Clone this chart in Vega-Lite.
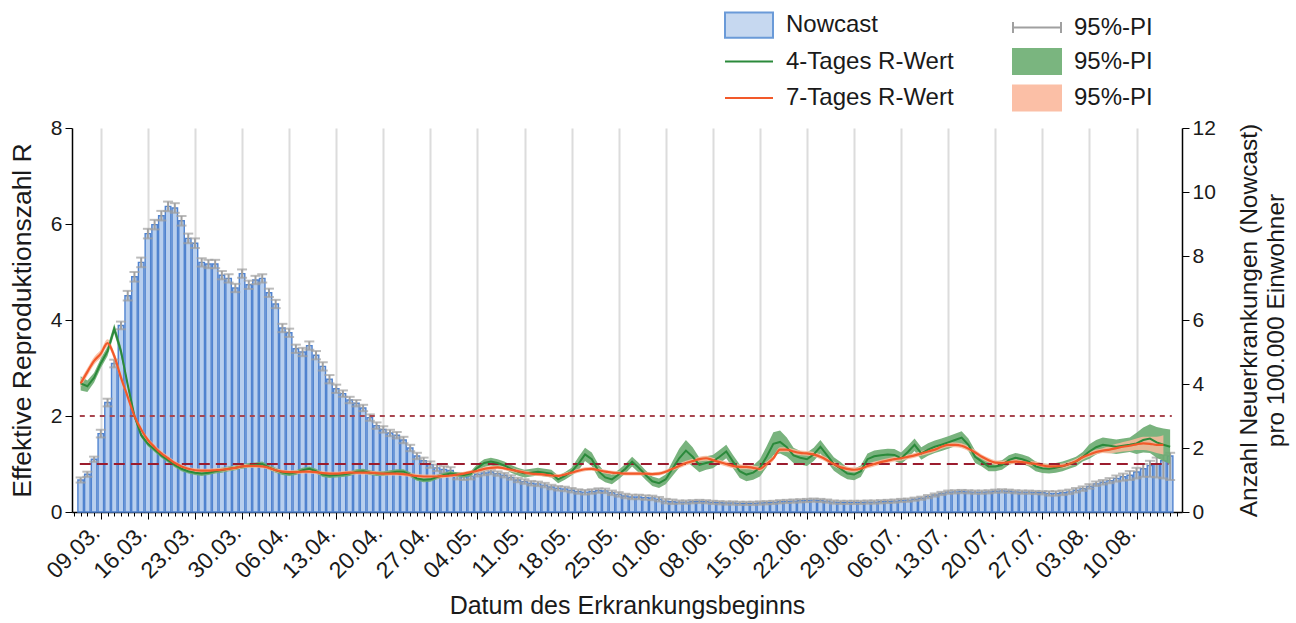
{
"$schema": "https://vega.github.io/schema/vega-lite/v6.json",
"width": 1110, "height": 384,
"autosize": "none",
"padding": {"left": 72, "top": 128, "right": 114, "bottom": 111},
"background": "white",
"config": {"font": "Liberation Sans", "view": {"stroke": null},
  "axis": {"labelFont": "Liberation Sans", "titleFont": "Liberation Sans", "labelColor": "#1a1a1a", "titleColor": "#1a1a1a", "titleFontWeight": "normal", "grid": false}},
"datasets": {"main": [
{"d":"2020-03-06","n":1.0,"nl":0.92,"nh":1.08,"g":2.68,"gl":2.53,"gh":2.83,"o":2.68,"ol":2.6,"oh":2.76},
{"d":"2020-03-07","n":1.18,"nl":1.1,"nh":1.26,"g":2.62,"gl":2.5,"gh":2.74,"o":2.92,"ol":2.84,"oh":3.0},
{"d":"2020-03-08","n":1.65,"nl":1.57,"nh":1.73,"g":2.8,"gl":2.7,"gh":2.9,"o":3.15,"ol":3.07,"oh":3.23},
{"d":"2020-03-09","n":2.45,"nl":2.33,"nh":2.57,"g":3.1,"gl":3.0,"gh":3.2,"o":3.3,"ol":3.22,"oh":3.38},
{"d":"2020-03-10","n":3.42,"nl":3.3,"nh":3.54,"g":3.35,"gl":3.25,"gh":3.45,"o":3.52,"ol":3.44,"oh":3.6},
{"d":"2020-03-11","n":4.64,"nl":4.52,"nh":4.76,"g":3.82,"gl":3.72,"gh":3.92,"o":3.25,"ol":3.17,"oh":3.33},
{"d":"2020-03-12","n":5.83,"nl":5.71,"nh":5.95,"g":3.35,"gl":3.25,"gh":3.45,"o":2.8,"ol":2.72,"oh":2.88},
{"d":"2020-03-13","n":6.76,"nl":6.61,"nh":6.91,"g":2.65,"gl":2.6,"gh":2.7,"o":2.4,"ol":2.35,"oh":2.45},
{"d":"2020-03-14","n":7.35,"nl":7.2,"nh":7.5,"g":2.0,"gl":1.95,"gh":2.05,"o":2.0,"ol":1.95,"oh":2.05},
{"d":"2020-03-15","n":7.8,"nl":7.65,"nh":7.95,"g":1.6,"gl":1.55,"gh":1.65,"o":1.72,"ol":1.67,"oh":1.77},
{"d":"2020-03-16","n":8.7,"nl":8.55,"nh":8.85,"g":1.42,"gl":1.37,"gh":1.47,"o":1.5,"ol":1.45,"oh":1.55},
{"d":"2020-03-17","n":8.98,"nl":8.83,"nh":9.13,"g":1.3,"gl":1.25,"gh":1.35,"o":1.35,"ol":1.3,"oh":1.4},
{"d":"2020-03-18","n":9.26,"nl":9.11,"nh":9.41,"g":1.18,"gl":1.13,"gh":1.23,"o":1.22,"ol":1.17,"oh":1.27},
{"d":"2020-03-19","n":9.55,"nl":9.4,"nh":9.7,"g":1.08,"gl":1.03,"gh":1.13,"o":1.12,"ol":1.07,"oh":1.17},
{"d":"2020-03-20","n":9.5,"nl":9.35,"nh":9.65,"g":0.98,"gl":0.93,"gh":1.03,"o":1.02,"ol":0.98,"oh":1.06},
{"d":"2020-03-21","n":9.1,"nl":8.95,"nh":9.25,"g":0.9,"gl":0.85,"gh":0.95,"o":0.95,"ol":0.91,"oh":0.99},
{"d":"2020-03-22","n":8.55,"nl":8.4,"nh":8.7,"g":0.85,"gl":0.8,"gh":0.9,"o":0.9,"ol":0.86,"oh":0.94},
{"d":"2020-03-23","n":8.4,"nl":8.25,"nh":8.55,"g":0.82,"gl":0.77,"gh":0.87,"o":0.87,"ol":0.83,"oh":0.91},
{"d":"2020-03-24","n":7.8,"nl":7.67,"nh":7.93,"g":0.8,"gl":0.75,"gh":0.85,"o":0.86,"ol":0.82,"oh":0.9},
{"d":"2020-03-25","n":7.75,"nl":7.62,"nh":7.88,"g":0.82,"gl":0.77,"gh":0.87,"o":0.86,"ol":0.82,"oh":0.9},
{"d":"2020-03-26","n":7.75,"nl":7.62,"nh":7.88,"g":0.85,"gl":0.8,"gh":0.9,"o":0.87,"ol":0.83,"oh":0.91},
{"d":"2020-03-27","n":7.4,"nl":7.27,"nh":7.53,"g":0.87,"gl":0.82,"gh":0.92,"o":0.88,"ol":0.84,"oh":0.92},
{"d":"2020-03-28","n":7.3,"nl":7.17,"nh":7.43,"g":0.9,"gl":0.85,"gh":0.95,"o":0.9,"ol":0.86,"oh":0.94},
{"d":"2020-03-29","n":7.0,"nl":6.87,"nh":7.13,"g":0.92,"gl":0.87,"gh":0.97,"o":0.92,"ol":0.88,"oh":0.96},
{"d":"2020-03-30","n":7.45,"nl":7.32,"nh":7.58,"g":0.95,"gl":0.9,"gh":1.0,"o":0.95,"ol":0.91,"oh":0.99},
{"d":"2020-03-31","n":7.1,"nl":6.97,"nh":7.23,"g":0.97,"gl":0.92,"gh":1.02,"o":0.96,"ol":0.92,"oh":1.0},
{"d":"2020-04-01","n":7.25,"nl":7.12,"nh":7.38,"g":0.98,"gl":0.93,"gh":1.03,"o":0.96,"ol":0.92,"oh":1.0},
{"d":"2020-04-02","n":7.3,"nl":7.17,"nh":7.43,"g":1.0,"gl":0.95,"gh":1.05,"o":0.95,"ol":0.91,"oh":0.99},
{"d":"2020-04-03","n":6.85,"nl":6.72,"nh":6.98,"g":0.93,"gl":0.88,"gh":0.98,"o":0.92,"ol":0.88,"oh":0.96},
{"d":"2020-04-04","n":6.5,"nl":6.37,"nh":6.63,"g":0.87,"gl":0.82,"gh":0.92,"o":0.87,"ol":0.83,"oh":0.91},
{"d":"2020-04-05","n":5.75,"nl":5.62,"nh":5.88,"g":0.82,"gl":0.77,"gh":0.87,"o":0.84,"ol":0.8,"oh":0.88},
{"d":"2020-04-06","n":5.6,"nl":5.47,"nh":5.73,"g":0.8,"gl":0.75,"gh":0.85,"o":0.83,"ol":0.79,"oh":0.87},
{"d":"2020-04-07","n":5.1,"nl":4.97,"nh":5.23,"g":0.82,"gl":0.77,"gh":0.87,"o":0.83,"ol":0.79,"oh":0.87},
{"d":"2020-04-08","n":5.0,"nl":4.87,"nh":5.13,"g":0.87,"gl":0.82,"gh":0.92,"o":0.84,"ol":0.8,"oh":0.88},
{"d":"2020-04-09","n":5.2,"nl":5.07,"nh":5.33,"g":0.9,"gl":0.85,"gh":0.95,"o":0.84,"ol":0.8,"oh":0.88},
{"d":"2020-04-10","n":4.9,"nl":4.77,"nh":5.03,"g":0.85,"gl":0.8,"gh":0.9,"o":0.83,"ol":0.79,"oh":0.87},
{"d":"2020-04-11","n":4.55,"nl":4.42,"nh":4.68,"g":0.78,"gl":0.73,"gh":0.83,"o":0.81,"ol":0.77,"oh":0.85},
{"d":"2020-04-12","n":4.15,"nl":4.02,"nh":4.28,"g":0.76,"gl":0.71,"gh":0.81,"o":0.8,"ol":0.76,"oh":0.84},
{"d":"2020-04-13","n":3.85,"nl":3.72,"nh":3.98,"g":0.77,"gl":0.72,"gh":0.82,"o":0.8,"ol":0.76,"oh":0.84},
{"d":"2020-04-14","n":3.7,"nl":3.6,"nh":3.8,"g":0.78,"gl":0.73,"gh":0.83,"o":0.81,"ol":0.77,"oh":0.85},
{"d":"2020-04-15","n":3.5,"nl":3.4,"nh":3.6,"g":0.8,"gl":0.75,"gh":0.85,"o":0.82,"ol":0.78,"oh":0.86},
{"d":"2020-04-16","n":3.4,"nl":3.3,"nh":3.5,"g":0.84,"gl":0.79,"gh":0.89,"o":0.82,"ol":0.78,"oh":0.86},
{"d":"2020-04-17","n":3.25,"nl":3.15,"nh":3.35,"g":0.85,"gl":0.8,"gh":0.9,"o":0.82,"ol":0.78,"oh":0.86},
{"d":"2020-04-18","n":2.95,"nl":2.85,"nh":3.05,"g":0.82,"gl":0.77,"gh":0.87,"o":0.82,"ol":0.78,"oh":0.86},
{"d":"2020-04-19","n":2.7,"nl":2.6,"nh":2.8,"g":0.8,"gl":0.75,"gh":0.85,"o":0.81,"ol":0.77,"oh":0.85},
{"d":"2020-04-20","n":2.58,"nl":2.48,"nh":2.68,"g":0.8,"gl":0.75,"gh":0.85,"o":0.8,"ol":0.76,"oh":0.84},
{"d":"2020-04-21","n":2.47,"nl":2.37,"nh":2.57,"g":0.82,"gl":0.77,"gh":0.87,"o":0.8,"ol":0.76,"oh":0.84},
{"d":"2020-04-22","n":2.4,"nl":2.3,"nh":2.5,"g":0.84,"gl":0.79,"gh":0.89,"o":0.8,"ol":0.76,"oh":0.84},
{"d":"2020-04-23","n":2.25,"nl":2.15,"nh":2.35,"g":0.84,"gl":0.79,"gh":0.89,"o":0.79,"ol":0.75,"oh":0.83},
{"d":"2020-04-24","n":2.0,"nl":1.9,"nh":2.1,"g":0.78,"gl":0.73,"gh":0.83,"o":0.77,"ol":0.73,"oh":0.81},
{"d":"2020-04-25","n":1.75,"nl":1.65,"nh":1.85,"g":0.7,"gl":0.65,"gh":0.75,"o":0.75,"ol":0.71,"oh":0.79},
{"d":"2020-04-26","n":1.6,"nl":1.5,"nh":1.7,"g":0.67,"gl":0.62,"gh":0.72,"o":0.74,"ol":0.7,"oh":0.78},
{"d":"2020-04-27","n":1.48,"nl":1.38,"nh":1.58,"g":0.68,"gl":0.63,"gh":0.73,"o":0.74,"ol":0.7,"oh":0.78},
{"d":"2020-04-28","n":1.38,"nl":1.28,"nh":1.48,"g":0.73,"gl":0.68,"gh":0.78,"o":0.74,"ol":0.7,"oh":0.78},
{"d":"2020-04-29","n":1.33,"nl":1.23,"nh":1.43,"g":0.77,"gl":0.72,"gh":0.82,"o":0.75,"ol":0.71,"oh":0.79},
{"d":"2020-04-30","n":1.3,"nl":1.2,"nh":1.4,"g":0.8,"gl":0.75,"gh":0.85,"o":0.76,"ol":0.72,"oh":0.8},
{"d":"2020-05-01","n":1.12,"nl":1.02,"nh":1.22,"g":0.78,"gl":0.73,"gh":0.83,"o":0.78,"ol":0.74,"oh":0.82},
{"d":"2020-05-02","n":1.1,"nl":1.0,"nh":1.2,"g":0.77,"gl":0.72,"gh":0.82,"o":0.8,"ol":0.76,"oh":0.84},
{"d":"2020-05-03","n":1.12,"nl":1.02,"nh":1.22,"g":0.8,"gl":0.75,"gh":0.85,"o":0.83,"ol":0.79,"oh":0.87},
{"d":"2020-05-04","n":1.18,"nl":1.11,"nh":1.25,"g":0.92,"gl":0.84,"gh":1.0,"o":0.86,"ol":0.82,"oh":0.9},
{"d":"2020-05-05","n":1.22,"nl":1.15,"nh":1.29,"g":1.02,"gl":0.94,"gh":1.1,"o":0.9,"ol":0.86,"oh":0.94},
{"d":"2020-05-06","n":1.25,"nl":1.18,"nh":1.32,"g":1.05,"gl":0.97,"gh":1.13,"o":0.92,"ol":0.88,"oh":0.96},
{"d":"2020-05-07","n":1.2,"nl":1.13,"nh":1.27,"g":1.02,"gl":0.94,"gh":1.1,"o":0.93,"ol":0.89,"oh":0.97},
{"d":"2020-05-08","n":1.15,"nl":1.08,"nh":1.22,"g":0.97,"gl":0.89,"gh":1.05,"o":0.91,"ol":0.87,"oh":0.95},
{"d":"2020-05-09","n":1.08,"nl":1.01,"nh":1.15,"g":0.9,"gl":0.82,"gh":0.98,"o":0.88,"ol":0.84,"oh":0.92},
{"d":"2020-05-10","n":1.0,"nl":0.93,"nh":1.07,"g":0.84,"gl":0.76,"gh":0.92,"o":0.85,"ol":0.81,"oh":0.89},
{"d":"2020-05-11","n":0.95,"nl":0.88,"nh":1.02,"g":0.8,"gl":0.72,"gh":0.88,"o":0.82,"ol":0.78,"oh":0.86},
{"d":"2020-05-12","n":0.9,"nl":0.83,"nh":0.97,"g":0.82,"gl":0.74,"gh":0.9,"o":0.8,"ol":0.76,"oh":0.84},
{"d":"2020-05-13","n":0.88,"nl":0.81,"nh":0.95,"g":0.84,"gl":0.76,"gh":0.92,"o":0.79,"ol":0.75,"oh":0.83},
{"d":"2020-05-14","n":0.84,"nl":0.77,"nh":0.91,"g":0.82,"gl":0.74,"gh":0.9,"o":0.78,"ol":0.74,"oh":0.82},
{"d":"2020-05-15","n":0.78,"nl":0.71,"nh":0.85,"g":0.8,"gl":0.72,"gh":0.88,"o":0.76,"ol":0.72,"oh":0.8},
{"d":"2020-05-16","n":0.74,"nl":0.67,"nh":0.81,"g":0.68,"gl":0.6,"gh":0.76,"o":0.75,"ol":0.71,"oh":0.79},
{"d":"2020-05-17","n":0.72,"nl":0.65,"nh":0.79,"g":0.75,"gl":0.67,"gh":0.83,"o":0.78,"ol":0.74,"oh":0.82},
{"d":"2020-05-18","n":0.68,"nl":0.61,"nh":0.75,"g":0.84,"gl":0.76,"gh":0.92,"o":0.82,"ol":0.78,"oh":0.86},
{"d":"2020-05-19","n":0.64,"nl":0.57,"nh":0.71,"g":1.0,"gl":0.86,"gh":1.14,"o":0.86,"ol":0.82,"oh":0.9},
{"d":"2020-05-20","n":0.62,"nl":0.55,"nh":0.69,"g":1.2,"gl":1.06,"gh":1.34,"o":0.89,"ol":0.85,"oh":0.93},
{"d":"2020-05-21","n":0.64,"nl":0.57,"nh":0.71,"g":1.1,"gl":0.96,"gh":1.24,"o":0.9,"ol":0.86,"oh":0.94},
{"d":"2020-05-22","n":0.67,"nl":0.6,"nh":0.74,"g":0.85,"gl":0.71,"gh":0.99,"o":0.87,"ol":0.83,"oh":0.91},
{"d":"2020-05-23","n":0.66,"nl":0.59,"nh":0.73,"g":0.72,"gl":0.62,"gh":0.82,"o":0.84,"ol":0.8,"oh":0.88},
{"d":"2020-05-24","n":0.6,"nl":0.53,"nh":0.67,"g":0.68,"gl":0.58,"gh":0.78,"o":0.82,"ol":0.78,"oh":0.86},
{"d":"2020-05-25","n":0.55,"nl":0.48,"nh":0.62,"g":0.78,"gl":0.68,"gh":0.88,"o":0.81,"ol":0.77,"oh":0.85},
{"d":"2020-05-26","n":0.5,"nl":0.43,"nh":0.57,"g":0.9,"gl":0.8,"gh":1.0,"o":0.8,"ol":0.76,"oh":0.84},
{"d":"2020-05-27","n":0.47,"nl":0.4,"nh":0.54,"g":1.05,"gl":0.95,"gh":1.15,"o":0.8,"ol":0.76,"oh":0.84},
{"d":"2020-05-28","n":0.47,"nl":0.4,"nh":0.54,"g":0.92,"gl":0.82,"gh":1.02,"o":0.8,"ol":0.76,"oh":0.84},
{"d":"2020-05-29","n":0.45,"nl":0.38,"nh":0.52,"g":0.77,"gl":0.67,"gh":0.87,"o":0.8,"ol":0.76,"oh":0.84},
{"d":"2020-05-30","n":0.44,"nl":0.37,"nh":0.51,"g":0.64,"gl":0.54,"gh":0.74,"o":0.79,"ol":0.75,"oh":0.83},
{"d":"2020-05-31","n":0.4,"nl":0.33,"nh":0.47,"g":0.6,"gl":0.5,"gh":0.7,"o":0.8,"ol":0.76,"oh":0.84},
{"d":"2020-06-01","n":0.34,"nl":0.27,"nh":0.41,"g":0.68,"gl":0.58,"gh":0.78,"o":0.84,"ol":0.8,"oh":0.88},
{"d":"2020-06-02","n":0.32,"nl":0.25,"nh":0.39,"g":0.9,"gl":0.75,"gh":1.05,"o":0.9,"ol":0.86,"oh":0.94},
{"d":"2020-06-03","n":0.31,"nl":0.26,"nh":0.36,"g":1.12,"gl":0.92,"gh":1.32,"o":0.96,"ol":0.91,"oh":1.01},
{"d":"2020-06-04","n":0.31,"nl":0.26,"nh":0.36,"g":1.28,"gl":1.06,"gh":1.5,"o":1.02,"ol":0.97,"oh":1.07},
{"d":"2020-06-05","n":0.32,"nl":0.27,"nh":0.37,"g":1.15,"gl":0.95,"gh":1.35,"o":1.06,"ol":1.01,"oh":1.11},
{"d":"2020-06-06","n":0.33,"nl":0.28,"nh":0.38,"g":0.98,"gl":0.83,"gh":1.13,"o":1.1,"ol":1.05,"oh":1.15},
{"d":"2020-06-07","n":0.32,"nl":0.27,"nh":0.37,"g":1.02,"gl":0.88,"gh":1.16,"o":1.12,"ol":1.07,"oh":1.17},
{"d":"2020-06-08","n":0.3,"nl":0.25,"nh":0.35,"g":1.05,"gl":0.91,"gh":1.19,"o":1.08,"ol":1.03,"oh":1.13},
{"d":"2020-06-09","n":0.29,"nl":0.24,"nh":0.34,"g":1.15,"gl":1.01,"gh":1.29,"o":1.04,"ol":0.99,"oh":1.09},
{"d":"2020-06-10","n":0.28,"nl":0.23,"nh":0.33,"g":1.26,"gl":1.12,"gh":1.4,"o":1.0,"ol":0.95,"oh":1.05},
{"d":"2020-06-11","n":0.28,"nl":0.23,"nh":0.33,"g":1.05,"gl":0.91,"gh":1.19,"o":0.96,"ol":0.91,"oh":1.01},
{"d":"2020-06-12","n":0.27,"nl":0.22,"nh":0.32,"g":0.85,"gl":0.71,"gh":0.99,"o":0.94,"ol":0.89,"oh":0.99},
{"d":"2020-06-13","n":0.27,"nl":0.22,"nh":0.32,"g":0.78,"gl":0.64,"gh":0.92,"o":0.94,"ol":0.89,"oh":0.99},
{"d":"2020-06-14","n":0.27,"nl":0.22,"nh":0.32,"g":0.82,"gl":0.67,"gh":0.97,"o":0.92,"ol":0.87,"oh":0.97},
{"d":"2020-06-15","n":0.28,"nl":0.23,"nh":0.33,"g":0.92,"gl":0.74,"gh":1.1,"o":0.9,"ol":0.85,"oh":0.95},
{"d":"2020-06-16","n":0.29,"nl":0.24,"nh":0.34,"g":1.15,"gl":0.93,"gh":1.37,"o":1.0,"ol":0.95,"oh":1.05},
{"d":"2020-06-17","n":0.3,"nl":0.25,"nh":0.35,"g":1.42,"gl":1.18,"gh":1.66,"o":1.12,"ol":1.07,"oh":1.17},
{"d":"2020-06-18","n":0.32,"nl":0.27,"nh":0.37,"g":1.46,"gl":1.22,"gh":1.7,"o":1.3,"ol":1.25,"oh":1.35},
{"d":"2020-06-19","n":0.33,"nl":0.28,"nh":0.38,"g":1.35,"gl":1.15,"gh":1.55,"o":1.3,"ol":1.25,"oh":1.35},
{"d":"2020-06-20","n":0.34,"nl":0.29,"nh":0.39,"g":1.18,"gl":1.02,"gh":1.34,"o":1.26,"ol":1.21,"oh":1.31},
{"d":"2020-06-21","n":0.35,"nl":0.3,"nh":0.4,"g":1.13,"gl":0.99,"gh":1.27,"o":1.23,"ol":1.18,"oh":1.28},
{"d":"2020-06-22","n":0.36,"nl":0.31,"nh":0.41,"g":1.1,"gl":0.96,"gh":1.24,"o":1.22,"ol":1.17,"oh":1.27},
{"d":"2020-06-23","n":0.37,"nl":0.32,"nh":0.42,"g":1.2,"gl":1.06,"gh":1.34,"o":1.2,"ol":1.15,"oh":1.25},
{"d":"2020-06-24","n":0.36,"nl":0.31,"nh":0.41,"g":1.36,"gl":1.22,"gh":1.5,"o":1.15,"ol":1.1,"oh":1.2},
{"d":"2020-06-25","n":0.34,"nl":0.29,"nh":0.39,"g":1.18,"gl":1.04,"gh":1.32,"o":1.08,"ol":1.03,"oh":1.13},
{"d":"2020-06-26","n":0.31,"nl":0.26,"nh":0.36,"g":1.0,"gl":0.86,"gh":1.14,"o":1.0,"ol":0.95,"oh":1.05},
{"d":"2020-06-27","n":0.3,"nl":0.25,"nh":0.35,"g":0.9,"gl":0.76,"gh":1.04,"o":0.93,"ol":0.88,"oh":0.98},
{"d":"2020-06-28","n":0.3,"nl":0.25,"nh":0.35,"g":0.8,"gl":0.68,"gh":0.92,"o":0.9,"ol":0.85,"oh":0.95},
{"d":"2020-06-29","n":0.3,"nl":0.25,"nh":0.35,"g":0.78,"gl":0.66,"gh":0.9,"o":0.88,"ol":0.83,"oh":0.93},
{"d":"2020-06-30","n":0.3,"nl":0.25,"nh":0.35,"g":0.85,"gl":0.73,"gh":0.97,"o":0.9,"ol":0.85,"oh":0.95},
{"d":"2020-07-01","n":0.31,"nl":0.26,"nh":0.36,"g":1.1,"gl":0.98,"gh":1.22,"o":0.96,"ol":0.91,"oh":1.01},
{"d":"2020-07-02","n":0.31,"nl":0.26,"nh":0.36,"g":1.16,"gl":1.04,"gh":1.28,"o":1.0,"ol":0.95,"oh":1.05},
{"d":"2020-07-03","n":0.32,"nl":0.27,"nh":0.37,"g":1.18,"gl":1.06,"gh":1.3,"o":1.04,"ol":0.99,"oh":1.09},
{"d":"2020-07-04","n":0.33,"nl":0.28,"nh":0.38,"g":1.2,"gl":1.08,"gh":1.32,"o":1.07,"ol":1.02,"oh":1.12},
{"d":"2020-07-05","n":0.34,"nl":0.29,"nh":0.39,"g":1.19,"gl":1.07,"gh":1.31,"o":1.1,"ol":1.05,"oh":1.15},
{"d":"2020-07-06","n":0.36,"nl":0.31,"nh":0.41,"g":1.12,"gl":1.0,"gh":1.24,"o":1.12,"ol":1.07,"oh":1.17},
{"d":"2020-07-07","n":0.37,"nl":0.32,"nh":0.42,"g":1.25,"gl":1.12,"gh":1.38,"o":1.15,"ol":1.1,"oh":1.2},
{"d":"2020-07-08","n":0.4,"nl":0.35,"nh":0.45,"g":1.4,"gl":1.27,"gh":1.53,"o":1.18,"ol":1.13,"oh":1.23},
{"d":"2020-07-09","n":0.43,"nl":0.38,"nh":0.48,"g":1.22,"gl":1.09,"gh":1.35,"o":1.22,"ol":1.17,"oh":1.27},
{"d":"2020-07-10","n":0.48,"nl":0.43,"nh":0.53,"g":1.3,"gl":1.17,"gh":1.43,"o":1.26,"ol":1.21,"oh":1.31},
{"d":"2020-07-11","n":0.53,"nl":0.48,"nh":0.58,"g":1.36,"gl":1.23,"gh":1.49,"o":1.3,"ol":1.25,"oh":1.35},
{"d":"2020-07-12","n":0.58,"nl":0.53,"nh":0.63,"g":1.4,"gl":1.27,"gh":1.53,"o":1.36,"ol":1.31,"oh":1.41},
{"d":"2020-07-13","n":0.62,"nl":0.57,"nh":0.67,"g":1.45,"gl":1.32,"gh":1.58,"o":1.4,"ol":1.35,"oh":1.45},
{"d":"2020-07-14","n":0.63,"nl":0.58,"nh":0.68,"g":1.5,"gl":1.37,"gh":1.63,"o":1.4,"ol":1.35,"oh":1.45},
{"d":"2020-07-15","n":0.64,"nl":0.59,"nh":0.69,"g":1.55,"gl":1.42,"gh":1.68,"o":1.38,"ol":1.33,"oh":1.43},
{"d":"2020-07-16","n":0.63,"nl":0.58,"nh":0.68,"g":1.4,"gl":1.27,"gh":1.53,"o":1.32,"ol":1.27,"oh":1.37},
{"d":"2020-07-17","n":0.62,"nl":0.57,"nh":0.67,"g":1.15,"gl":1.02,"gh":1.28,"o":1.24,"ol":1.19,"oh":1.29},
{"d":"2020-07-18","n":0.62,"nl":0.57,"nh":0.67,"g":1.05,"gl":0.95,"gh":1.15,"o":1.15,"ol":1.1,"oh":1.2},
{"d":"2020-07-19","n":0.63,"nl":0.58,"nh":0.68,"g":0.95,"gl":0.85,"gh":1.05,"o":1.08,"ol":1.03,"oh":1.13},
{"d":"2020-07-20","n":0.65,"nl":0.6,"nh":0.7,"g":0.95,"gl":0.85,"gh":1.05,"o":1.03,"ol":0.98,"oh":1.08},
{"d":"2020-07-21","n":0.66,"nl":0.61,"nh":0.71,"g":0.98,"gl":0.88,"gh":1.08,"o":1.02,"ol":0.97,"oh":1.07},
{"d":"2020-07-22","n":0.65,"nl":0.6,"nh":0.7,"g":1.08,"gl":0.98,"gh":1.18,"o":1.04,"ol":0.99,"oh":1.09},
{"d":"2020-07-23","n":0.63,"nl":0.58,"nh":0.68,"g":1.13,"gl":1.03,"gh":1.23,"o":1.05,"ol":1.0,"oh":1.1},
{"d":"2020-07-24","n":0.62,"nl":0.57,"nh":0.67,"g":1.1,"gl":1.0,"gh":1.2,"o":1.04,"ol":0.99,"oh":1.09},
{"d":"2020-07-25","n":0.62,"nl":0.57,"nh":0.67,"g":1.05,"gl":0.95,"gh":1.15,"o":1.02,"ol":0.97,"oh":1.07},
{"d":"2020-07-26","n":0.61,"nl":0.56,"nh":0.66,"g":0.95,"gl":0.85,"gh":1.05,"o":1.0,"ol":0.95,"oh":1.05},
{"d":"2020-07-27","n":0.6,"nl":0.55,"nh":0.65,"g":0.91,"gl":0.81,"gh":1.01,"o":0.97,"ol":0.92,"oh":1.02},
{"d":"2020-07-28","n":0.58,"nl":0.51,"nh":0.65,"g":0.9,"gl":0.8,"gh":1.0,"o":0.95,"ol":0.9,"oh":1.0},
{"d":"2020-07-29","n":0.58,"nl":0.51,"nh":0.65,"g":0.92,"gl":0.82,"gh":1.02,"o":0.95,"ol":0.9,"oh":1.0},
{"d":"2020-07-30","n":0.6,"nl":0.53,"nh":0.67,"g":0.95,"gl":0.85,"gh":1.05,"o":0.96,"ol":0.91,"oh":1.01},
{"d":"2020-07-31","n":0.63,"nl":0.56,"nh":0.7,"g":1.0,"gl":0.9,"gh":1.1,"o":1.0,"ol":0.95,"oh":1.05},
{"d":"2020-08-01","n":0.68,"nl":0.61,"nh":0.75,"g":1.05,"gl":0.95,"gh":1.15,"o":1.06,"ol":1.01,"oh":1.11},
{"d":"2020-08-02","n":0.73,"nl":0.66,"nh":0.8,"g":1.15,"gl":1.05,"gh":1.25,"o":1.14,"ol":1.09,"oh":1.19},
{"d":"2020-08-03","n":0.8,"nl":0.73,"nh":0.87,"g":1.26,"gl":1.11,"gh":1.41,"o":1.2,"ol":1.15,"oh":1.25},
{"d":"2020-08-04","n":0.88,"nl":0.81,"nh":0.95,"g":1.35,"gl":1.2,"gh":1.5,"o":1.25,"ol":1.2,"oh":1.3},
{"d":"2020-08-05","n":0.93,"nl":0.86,"nh":1.0,"g":1.4,"gl":1.25,"gh":1.55,"o":1.28,"ol":1.23,"oh":1.33},
{"d":"2020-08-06","n":0.98,"nl":0.9,"nh":1.06,"g":1.38,"gl":1.23,"gh":1.53,"o":1.3,"ol":1.22,"oh":1.38},
{"d":"2020-08-07","n":1.05,"nl":0.95,"nh":1.14,"g":1.36,"gl":1.21,"gh":1.51,"o":1.33,"ol":1.24,"oh":1.42},
{"d":"2020-08-08","n":1.1,"nl":0.98,"nh":1.2,"g":1.38,"gl":1.23,"gh":1.53,"o":1.36,"ol":1.26,"oh":1.46},
{"d":"2020-08-09","n":1.15,"nl":1.0,"nh":1.28,"g":1.4,"gl":1.25,"gh":1.55,"o":1.38,"ol":1.27,"oh":1.49},
{"d":"2020-08-10","n":1.25,"nl":1.05,"nh":1.38,"g":1.43,"gl":1.21,"gh":1.65,"o":1.41,"ol":1.29,"oh":1.53},
{"d":"2020-08-11","n":1.35,"nl":1.1,"nh":1.5,"g":1.5,"gl":1.24,"gh":1.76,"o":1.43,"ol":1.29,"oh":1.57},
{"d":"2020-08-12","n":1.45,"nl":1.1,"nh":1.6,"g":1.53,"gl":1.23,"gh":1.83,"o":1.42,"ol":1.27,"oh":1.57},
{"d":"2020-08-13","n":1.5,"nl":1.08,"nh":1.7,"g":1.45,"gl":1.13,"gh":1.77,"o":1.4,"ol":1.23,"oh":1.57},
{"d":"2020-08-14","n":1.6,"nl":1.05,"nh":1.78,"g":1.4,"gl":1.06,"gh":1.74,"o":1.4,"ol":1.2,"oh":1.6},
{"d":"2020-08-15","n":1.75,"nl":1.0,"nh":1.85,"g":1.36,"gl":1.0,"gh":1.72}
],
"legend": [{"leg":"Nowcast"},{"leg":"4-Tages R-Wert"},{"leg":"7-Tages R-Wert"},{"leg":"p1"},{"leg":"p2"},{"leg":"p3"}]
},
"layer": [
{
  "data": {"name": "main"},
  "layer": [
    {"mark": {"type": "bar", "width": 5.5, "fill": "#b8cfee", "stroke": "#5083cf", "strokeWidth": 1.4},
     "encoding": {
      "x": {"field": "d", "type": "temporal",
        "scale": {"type": "utc", "domain": [{"year":2020,"month":3,"date":5,"hours":11,"utc":true},{"year":2020,"month":8,"date":16,"minutes":30,"utc":true}]},
        "axis": {"values": [
          {"year":2020,"month":3,"date":9,"utc":true},{"year":2020,"month":3,"date":16,"utc":true},{"year":2020,"month":3,"date":23,"utc":true},{"year":2020,"month":3,"date":30,"utc":true},
          {"year":2020,"month":4,"date":6,"utc":true},{"year":2020,"month":4,"date":13,"utc":true},{"year":2020,"month":4,"date":20,"utc":true},{"year":2020,"month":4,"date":27,"utc":true},
          {"year":2020,"month":5,"date":4,"utc":true},{"year":2020,"month":5,"date":11,"utc":true},{"year":2020,"month":5,"date":18,"utc":true},{"year":2020,"month":5,"date":25,"utc":true},
          {"year":2020,"month":6,"date":1,"utc":true},{"year":2020,"month":6,"date":8,"utc":true},{"year":2020,"month":6,"date":15,"utc":true},{"year":2020,"month":6,"date":22,"utc":true},{"year":2020,"month":6,"date":29,"utc":true},
          {"year":2020,"month":7,"date":6,"utc":true},{"year":2020,"month":7,"date":13,"utc":true},{"year":2020,"month":7,"date":20,"utc":true},{"year":2020,"month":7,"date":27,"utc":true},
          {"year":2020,"month":8,"date":3,"utc":true},{"year":2020,"month":8,"date":10,"utc":true}],
          "labelExpr": "utcFormat(datum.value, '%d.%m.')", "labelOverlap": false, "labelAngle": -45, "labelFontSize": 23,
          "labelAlign": "right", "labelBaseline": "middle", "labelPadding": 10, "labelOffset": -5,
          "grid": true, "gridColor": "#dcdcdc", "gridWidth": 2,
          "tickSize": 7, "tickColor": "#000", "domainColor": "#000", "domainWidth": 1.5,
          "title": "Datum des Erkrankungsbeginns", "titleFontSize": 25, "titlePadding": 11}},
      "y": {"field": "n", "type": "quantitative", "scale": {"domain": [0, 12]},
        "axis": {"orient": "right", "values": [0,2,4,6,8,10,12], "labelFontSize": 21, "tickSize": 7, "tickColor": "#000", "domainColor": "#000", "domainWidth": 1.5, "labelPadding": 3,
          "title": ["Anzahl Neuerkrankungen (Nowcast)", "pro 100.000 Einwohner"], "titleFontSize": 24.5, "titleAngle": 270, "titleBaseline": "top", "titlePadding": -5, "titleLineHeight": 27}}
     }},
    {"mark": {"type": "errorbar", "ticks": {"size": 10}, "color": "#a0a0a0", "thickness": 2},
     "encoding": {
      "x": {"field": "d", "type": "temporal"},
      "y": {"field": "nl", "type": "quantitative", "scale": {"domain": [0, 12]},
        "axis": {"orient": "right", "title": ["Anzahl Neuerkrankungen (Nowcast)", "pro 100.000 Einwohner"]}},
      "y2": {"field": "nh"}
     }}
  ]
},
{
  "layer": [
    {"data": {"name": "main"},
     "mark": {"type": "area", "color": "#6aab70", "opacity": 0.9, "interpolate": "linear"},
     "encoding": {
      "x": {"field": "d", "type": "temporal", "axis": {"orient": "bottom", "tickCount": {"interval": "day", "step": 1}, "labels": false, "grid": false, "domain": false, "title": null, "tickSize": 4, "tickColor": "#000"}},
      "y": {"field": "gl", "type": "quantitative", "scale": {"domain": [0, 8]},
        "axis": {"orient": "left", "values": [0,2,4,6,8], "labelFontSize": 21, "tickSize": 7, "tickColor": "#000", "domainColor": "#000", "domainWidth": 1.5, "labelPadding": 3,
          "title": "Effektive Reproduktionszahl R", "titleFontSize": 26.5, "titlePadding": 14}},
      "y2": {"field": "gh"}
     }},
    {"data": {"name": "main"},
     "mark": {"type": "area", "color": "#f9b89b", "opacity": 0.85, "interpolate": "monotone"},
     "encoding": {
      "x": {"field": "d", "type": "temporal"},
      "y": {"field": "ol", "type": "quantitative"},
      "y2": {"field": "oh"}
     }},
    {"data": {"values": [{"r": 2, "s": "2020-03-05T21:00:00Z", "e": "2020-08-15T06:00:00Z"}]},
     "mark": {"type": "rule", "color": "#a8454f", "strokeWidth": 2, "strokeDash": [5, 5]},
     "encoding": {"x": {"field": "s", "type": "temporal"}, "x2": {"field": "e"}, "y": {"field": "r", "type": "quantitative"}}},
    {"data": {"values": [{"r": 1, "s": "2020-03-05T21:00:00Z", "e": "2020-08-14T18:00:00Z"}]},
     "mark": {"type": "rule", "color": "#9b1c2e", "strokeWidth": 2.2, "strokeDash": [11, 6]},
     "encoding": {"x": {"field": "s", "type": "temporal"}, "x2": {"field": "e"}, "y": {"field": "r", "type": "quantitative"}}},
    {"data": {"name": "main"},
     "mark": {"type": "line", "color": "#2b8a3b", "strokeWidth": 2, "interpolate": "linear"},
     "encoding": {"x": {"field": "d", "type": "temporal"}, "y": {"field": "g", "type": "quantitative"}}},
    {"data": {"name": "main"},
     "mark": {"type": "line", "color": "#f2592a", "strokeWidth": 2.2, "interpolate": "monotone"},
     "encoding": {"x": {"field": "d", "type": "temporal"}, "y": {"field": "o", "type": "quantitative"}}},
    {"data": {"name": "legend"},
     "mark": {"type": "point", "filled": true, "opacity": 0},
     "encoding": {
      "fill": {"field": "leg", "type": "nominal",
        "scale": {"domain": ["Nowcast","4-Tages R-Wert","7-Tages R-Wert","p1","p2","p3"], "range": ["#c6d8f0","transparent","transparent","transparent","#7ab57f","#fbbfa6"]},
        "legend": {"orient": "none", "legendX": 664, "legendY": -116, "columns": 2, "title": null, "padding": 0,
          "symbolSize": 576, "symbolStrokeWidth": 2, "symbolOpacity": 1, "labelFontSize": 24, "labelFont": "Liberation Sans", "labelColor": "#1a1a1a", "labelLimit": 400,
          "labelOffset": 24, "rowPadding": 2.5, "columnPadding": 55,
          "labelExpr": "datum.label == 'p1' || datum.label == 'p2' || datum.label == 'p3' ? '95%-PI' : datum.label",
          "encode": {"symbols": {"update": {"fill": {"scale": "fill", "field": "value"}, "stroke": {"scale": "stroke", "field": "value"}, "fillOpacity": {"value": 1}}}}}},
      "stroke": {"field": "leg", "type": "nominal",
        "scale": {"domain": ["Nowcast","4-Tages R-Wert","7-Tages R-Wert","p1","p2","p3"], "range": ["#6a9ad8","#2b8a3b","#f2592a","#a0a0a0","#7ab57f","#fbbfa6"]}},
      "shape": {"field": "leg", "type": "nominal",
        "scale": {"domain": ["Nowcast","4-Tages R-Wert","7-Tages R-Wert","p1","p2","p3"], "range": ["M-2,-1.05H2V1.05H-2Z","M-2,0H2","M-2,0H2","M-2,0H2M-2,-0.45V0.45M2,-0.45V0.45","M-2,-1.05H2V1.05H-2Z","M-2,-1.05H2V1.05H-2Z"]}}
     }}
  ]
}
],
"resolve": {"scale": {"y": "independent"}, "axis": {"x": "independent"}}
}
